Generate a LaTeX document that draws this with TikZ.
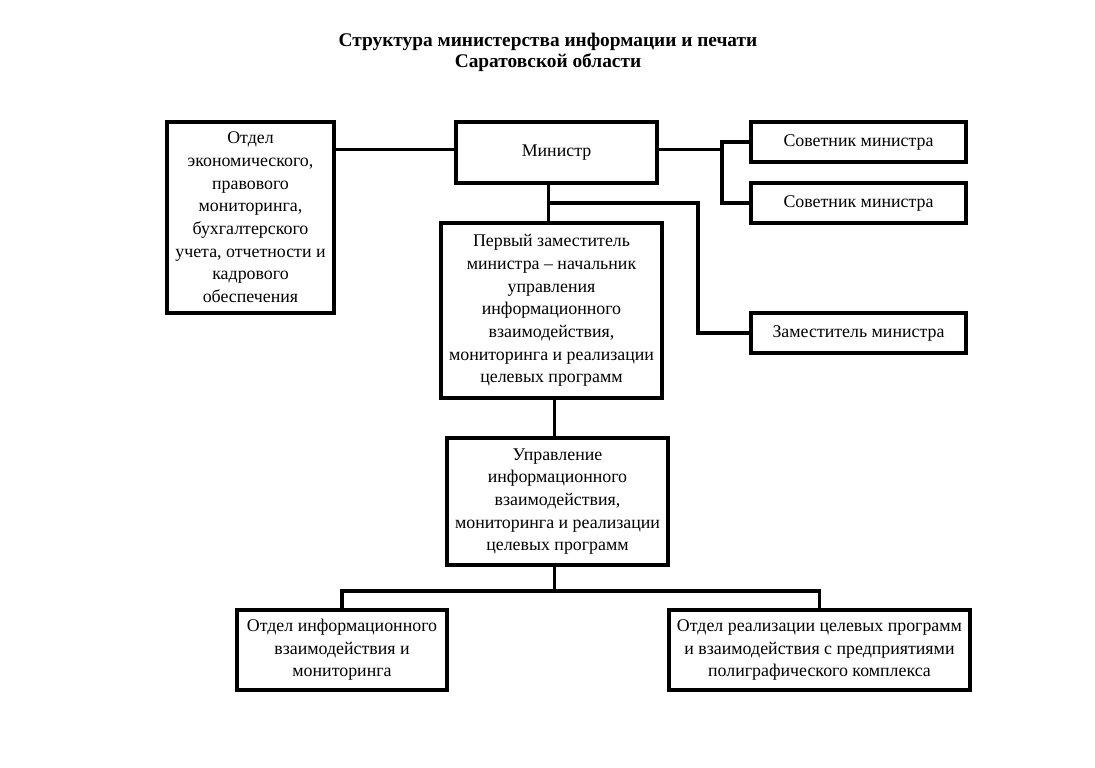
\documentclass[tikz,border=0pt]{standalone}
\usepackage{fontspec}
\setmainfont{Liberation Serif}
\usepackage{tikz}
\usetikzlibrary{calc}

\newcommand{\boxfont}{\fontsize{13.4}{17}\selectfont}
\newcommand{\headfont}{\fontsize{14.5}{15.8}\selectfont\bfseries}

\tikzset{
  unitbox/.style={draw, line width=2.3pt, align=center, inner sep=2pt, font=\boxfont},
  link/.style={line width=2.3pt}
}

\begin{document}
\begin{tikzpicture}[x=0.75pt,y=0.75pt,yscale=-1,xscale=1]
\path (0,0) rectangle (1095,767);

% Title
\node (title) at (548,52.5) [align=center, font=\headfont] {Структура министерства информации и печати\\Саратовской области};

% Boxes
\node (ekon) at (250.5,217.5) [unitbox, minimum width=125.25pt, minimum height=143.25pt] {Отдел\\экономического,\\правового\\мониторинга,\\бухгалтерского\\учета, отчетности и\\кадрового\\обеспечения};
\node (minister) at (556.5,152.5) [unitbox, minimum width=150.75pt, minimum height=45.75pt] {Министр};
\node (sov1) at (858.5,142) [unitbox, minimum width=161.25pt, minimum height=30pt] {Советник министра};
\node (sov2) at (858.5,203) [unitbox, minimum width=161.25pt, minimum height=30pt] {Советник министра};
\node (zam) at (858.5,333) [unitbox, minimum width=161.25pt, minimum height=30pt] {Заместитель министра};
\node (first) at (551.5,310.5) [unitbox, minimum width=165.75pt, minimum height=131.25pt] {Первый заместитель\\министра -- начальник\\управления\\информационного\\взаимодействия,\\мониторинга и реализации\\целевых программ};
\node (upr) at (557.5,501.5) [unitbox, minimum width=165.75pt, minimum height=95.25pt] {Управление\\информационного\\взаимодействия,\\мониторинга и реализации\\целевых программ};
\node (otdInfo) at (342,650) [unitbox, minimum width=157.5pt, minimum height=60pt] {Отдел информационного\\взаимодействия и\\мониторинга};
\node (otdReal) at (819.5,650) [unitbox, minimum width=225.75pt, minimum height=60pt] {Отдел реализации целевых программ\\и взаимодействия с предприятиями\\полиграфического комплекса};

% Connectors
\coordinate (sovBus) at (722,0);
\coordinate (zamBus) at (698,0);
\coordinate (lowBus) at (0,591);
\coordinate (minDrop) at ([xshift=-6pt]minister.south);
\coordinate (minSide) at ([yshift=-2pt]minister.west);

\draw [link] (minSide) -- (ekon.east |- minSide);
\draw [link] (minister.east |- minSide) -- (minSide -| sovBus);
\draw [link] (sov1.west) -| (sovBus |- sov2.west) -- (sov2.west);
\draw [link] (minDrop) -- (minDrop |- first.north);
\draw [link] (minDrop |- sov2.west) -| (zamBus |- zam.west) -- (zam.west);
\draw [link] ([xshift=2pt]first.south) -- ([xshift=2pt]first.south |- upr.north);
\draw [link] ([xshift=-2pt]upr.south) -- ([xshift=-2pt]upr.south |- lowBus);
\draw [link] (otdInfo.north) |- (lowBus -| upr.south) -| (otdReal.north);

\end{tikzpicture}
\end{document}
